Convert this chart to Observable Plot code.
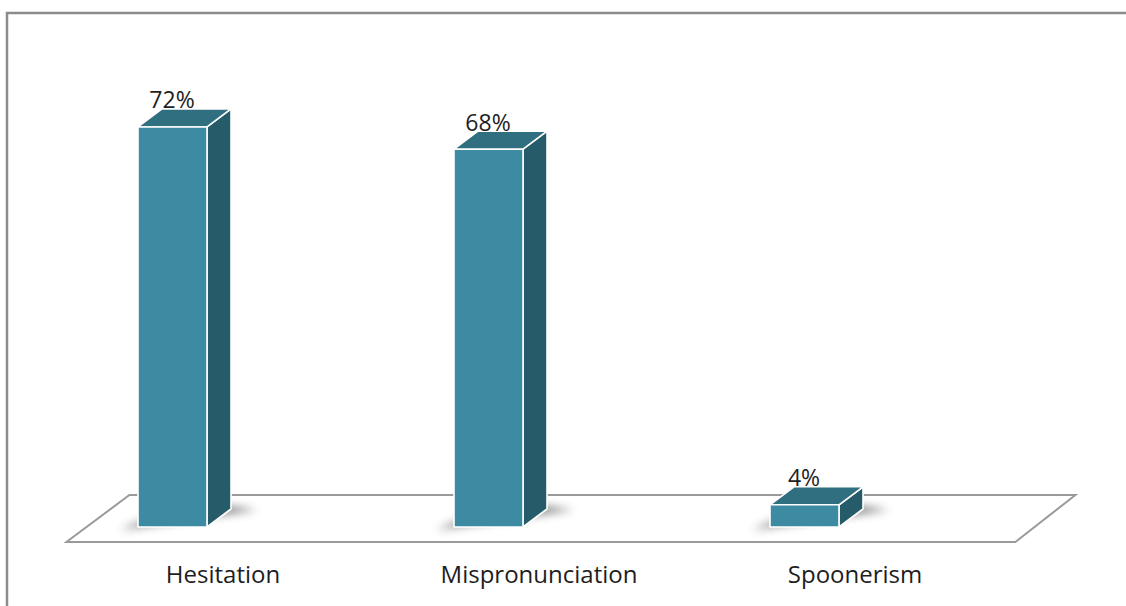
<!DOCTYPE html>
<html>
<head>
<meta charset="utf-8">
<script src="https://cdn.jsdelivr.net/npm/d3@7"></script>
<script src="https://cdn.jsdelivr.net/npm/@observablehq/plot@0.6"></script>
<style>
  html, body { margin: 0; padding: 0; background: #fff; }
  #chart svg { display: block; }
</style>
</head>
<body>
<div id="chart"></div>
<script>
const categories = ["Hesitation", "Mispronunciation", "Spoonerism"];
const values = [72, 68, 4];
const valueLabels = ["72%", "68%", "4%"];

const data = categories.map((c, i) => ({category: c, value: values[i], label: valueLabels[i]}));

const DX = 24, DY = -18;
const FRONT = "#3d8ba2", TOP = "#2f6f7f", SIDE = "#265b69";

function cube(index, scales, values_, dimensions, context) {
  const ns = "http://www.w3.org/2000/svg";
  const g = document.createElementNS(ns, "g");
  const x = scales.x, y = scales.y;
  const bw = x.bandwidth();
  const y0 = y(0);
  const range = x.range();
  const defs = document.createElementNS(ns, "defs");
  defs.innerHTML = `<filter id="sh" x="-50%" y="-200%" width="200%" height="500%"><feGaussianBlur stdDeviation="4"/></filter>`;
  g.appendChild(defs);
  const border = document.createElementNS(ns, "rect");
  border.setAttribute("x", 7); border.setAttribute("y", 13);
  border.setAttribute("width", 1300); border.setAttribute("height", 800);
  border.setAttribute("fill", "none"); border.setAttribute("stroke", "#8c8c8c"); border.setAttribute("stroke-width", 2.5);
  g.appendChild(border);
  const fl = range[0] + 52, fr = range[1] + 53;
  const fy = y0 + 15, by = y0 - 32;
  const floor = document.createElementNS(ns, "polygon");
  floor.setAttribute("points", [[fl, fy], [fl + 63, by], [fr + 60, by], [fr, fy]].map(p => p.join(",")).join(" "));
  floor.setAttribute("fill", "#fff"); floor.setAttribute("stroke", "#9a9a9a"); floor.setAttribute("stroke-width", 2);
  g.appendChild(floor);
  for (const d of data) {
    const x1 = x(d.category), x2 = x1 + bw, yt = y(d.value);
    const sh = document.createElementNS(ns, "polygon");
    sh.setAttribute("points", [[x1 - 18, y0 + 3], [x2 + DX + 26, y0 + DY + 1], [x2 + DX, y0 + DY - 3], [x1, y0 - 5]].map(p => p.join(",")).join(" "));
    sh.setAttribute("fill", "#6a6a6a"); sh.setAttribute("opacity", 0.8); sh.setAttribute("filter", "url(#sh)");
    g.appendChild(sh);
    const poly = (pts, fill) => {
      const p = document.createElementNS(ns, "polygon");
      p.setAttribute("points", pts.map(q => q.join(",")).join(" "));
      p.setAttribute("fill", fill); p.setAttribute("stroke", "#ffffff"); p.setAttribute("stroke-width", 1.6);
      p.setAttribute("stroke-linejoin", "round");
      g.appendChild(p);
    };
    poly([[x2, yt], [x2 + DX, yt + DY], [x2 + DX, y0 + DY], [x2, y0]], SIDE);
    poly([[x1, yt], [x1 + DX, yt + DY], [x2 + DX, yt + DY], [x2, yt]], TOP);
    poly([[x1, yt], [x2, yt], [x2, y0], [x1, y0]], FRONT);
  }
  return g;
}

const chart = Plot.plot({
  width: 1126,
  height: 606,
  margin: 0,
  style: {fontFamily: "'Open Sans', sans-serif", background: "#fff", overflow: "visible"},
  x: {type: "band", domain: categories, range: [14.4, 962.4], paddingInner: 0.782, paddingOuter: 0.391, axis: null},
  y: {domain: [0, 100], range: [527, -28.6], axis: null},
  marks: [
    cube,
    Plot.text(data, {x: "category", y: "value", text: "label", lineAnchor: "bottom", dy: -19, dx: -1, fontSize: 23, fill: "#1e1e1e"}),
    Plot.text(data, {x: "category", y: () => 0, text: "category", lineAnchor: "bottom", dy: 55, dx: 50, fontSize: 24, fill: "#1e1e1e"})
  ]
});
document.getElementById("chart").appendChild(chart);
</script>
</body>
</html>
